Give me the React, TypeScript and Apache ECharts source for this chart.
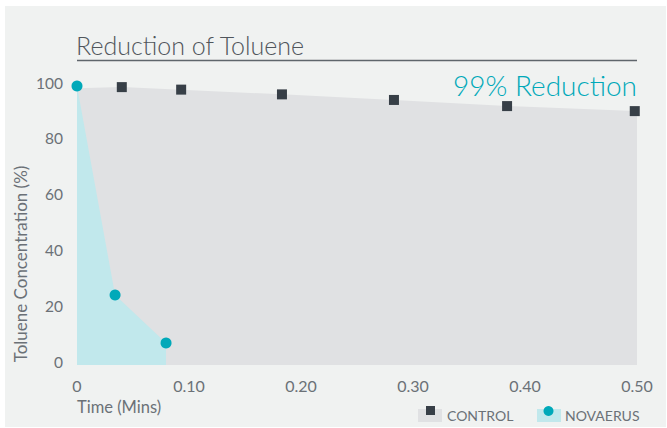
import React, { useEffect, useRef } from "react";
import * as echarts from "echarts";

const title = "Reduction of Toluene";
const annotation = "99% Reduction";
const xAxisName = "Time (Mins)";
const yAxisName = "Toluene Concentration (%)";
const seriesNames = ["CONTROL", "NOVAERUS"];

// Control: time (mins) and concentration (%)
const controlTimes = [0, 0.040, 0.093, 0.183, 0.283, 0.384, 0.498, 0.5];
const controlValues = [99.2, 99.6, 98.7, 97.0, 95.0, 92.8, 91.0, 90.9];
const controlMarked = [false, true, true, true, true, true, true, false];

// Novaerus
const novaerusTimes = [0, 0.034, 0.0795];
const novaerusValues = [100, 25.1, 7.9];

const xTicks = [0, 0.1, 0.2, 0.3, 0.4, 0.5];
const xTickLabels = ["0", "0.10", "0.20", "0.30", "0.40", "0.50"];

const FONT = "Lato, 'Open Sans', sans-serif";
const GREY_TEXT = "#6b7177";
const DARK = "#373f47";
const CYAN = "#00a9b9";
const CYAN_AREA = "#c1e8ec";
const GREY_AREA = "#e0e1e3";

export default function App() {
  const ref = useRef<HTMLDivElement>(null);

  useEffect(() => {
    if (!ref.current) return;
    const chart = echarts.init(ref.current, undefined, { renderer: "svg" });

    const controlData = controlTimes.map((t, i) =>
      controlMarked[i]
        ? { value: [t, controlValues[i]] }
        : { value: [t, controlValues[i]], symbol: "none" }
    );
    const novaerusData = novaerusTimes.map((t, i) => [t, novaerusValues[i]]);

    chart.setOption({
      animation: false,
      backgroundColor: "#ffffff",
      grid: { left: 77, right: 30, top: 86, bottom: 63, containLabel: false },
      xAxis: {
        type: "value",
        min: 0,
        max: 0.5,
        interval: 0.1,
        axisLine: { show: false },
        axisTick: { show: false },
        splitLine: { show: false },
        axisLabel: {
          color: GREY_TEXT,
          fontFamily: FONT,
          fontSize: 16,
          margin: 12,
          formatter: (v: number) => {
            const idx = xTicks.findIndex((t) => Math.abs(t - v) < 1e-9);
            return idx >= 0 ? xTickLabels[idx] : "";
          },
        },
      },
      yAxis: {
        type: "value",
        min: 0,
        max: 100,
        interval: 20,
        axisLine: { show: false },
        axisTick: { show: false },
        splitLine: { show: false },
        axisLabel: {
          color: GREY_TEXT,
          fontFamily: FONT,
          fontSize: 15.5,
          margin: 14,
          verticalAlign: "bottom",
          lineHeight: 7,
        },
      },
      graphic: [
        {
          type: "rect",
          z: -10,
          silent: true,
          shape: { x: 5, y: 6, width: 661, height: 421 },
          style: { fill: "#f0f2f1" },
        },
        {
          type: "text",
          x: 76,
          y: 45,
          style: {
            text: title,
            fill: "#50565c",
            font: `300 25px ${FONT}`,
            textAlign: "left",
            textVerticalAlign: "middle",
          },
        },
        {
          type: "line",
          shape: { x1: 77, y1: 60.5, x2: 637, y2: 60.5 },
          style: { stroke: "#5f666c", lineWidth: 1.5 },
        },
        {
          type: "text",
          x: 637,
          y: 85,
          z: 10,
          style: {
            text: annotation,
            fill: CYAN,
            font: `300 28px ${FONT}`,
            textAlign: "right",
            textVerticalAlign: "middle",
          },
        },
        {
          type: "text",
          x: 77,
          y: 407,
          style: {
            text: xAxisName,
            fill: GREY_TEXT,
            font: `16.5px ${FONT}`,
            textAlign: "left",
            textVerticalAlign: "middle",
          },
        },
        {
          type: "text",
          x: 20,
          y: 264,
          rotation: Math.PI / 2,
          style: {
            text: yAxisName,
            fill: GREY_TEXT,
            font: `17px ${FONT}`,
            textAlign: "center",
            textVerticalAlign: "middle",
          },
        },
        // legend: CONTROL
        {
          type: "rect",
          shape: { x: 418, y: 409, width: 24, height: 13 },
          style: { fill: GREY_AREA },
        },
        {
          type: "rect",
          shape: { x: 426, y: 406, width: 9, height: 9 },
          style: { fill: DARK },
        },
        {
          type: "text",
          x: 447,
          y: 415,
          style: {
            text: seriesNames[0],
            fill: GREY_TEXT,
            font: `14px ${FONT}`,
            textAlign: "left",
            textVerticalAlign: "middle",
          },
        },
        // legend: NOVAERUS
        {
          type: "rect",
          shape: { x: 537, y: 409, width: 24, height: 13 },
          style: { fill: CYAN_AREA },
        },
        {
          type: "circle",
          shape: { cx: 548.5, cy: 411, r: 5 },
          style: { fill: CYAN },
        },
        {
          type: "text",
          x: 565,
          y: 415,
          style: {
            text: seriesNames[1],
            fill: GREY_TEXT,
            font: `14px ${FONT}`,
            textAlign: "left",
            textVerticalAlign: "middle",
          },
        },
      ],
      series: [
        {
          name: seriesNames[0],
          type: "line",
          data: controlData,
          symbol: "rect",
          symbolSize: 10,
          showAllSymbol: true,
          itemStyle: { color: DARK },
          lineStyle: { width: 0 },
          areaStyle: { color: GREY_AREA, opacity: 1 },
          z: 2,
        },
        {
          name: seriesNames[1],
          type: "line",
          data: novaerusData,
          symbol: "circle",
          symbolSize: 11,
          showAllSymbol: true,
          itemStyle: { color: CYAN },
          lineStyle: { width: 0 },
          areaStyle: { color: CYAN_AREA, opacity: 1 },
          z: 3,
        },
      ],
    });

    return () => chart.dispose();
  }, []);

  return (
    <div
      ref={ref}
      style={{ position: "fixed", left: 0, top: 0, width: 667, height: 428 }}
    />
  );
}
